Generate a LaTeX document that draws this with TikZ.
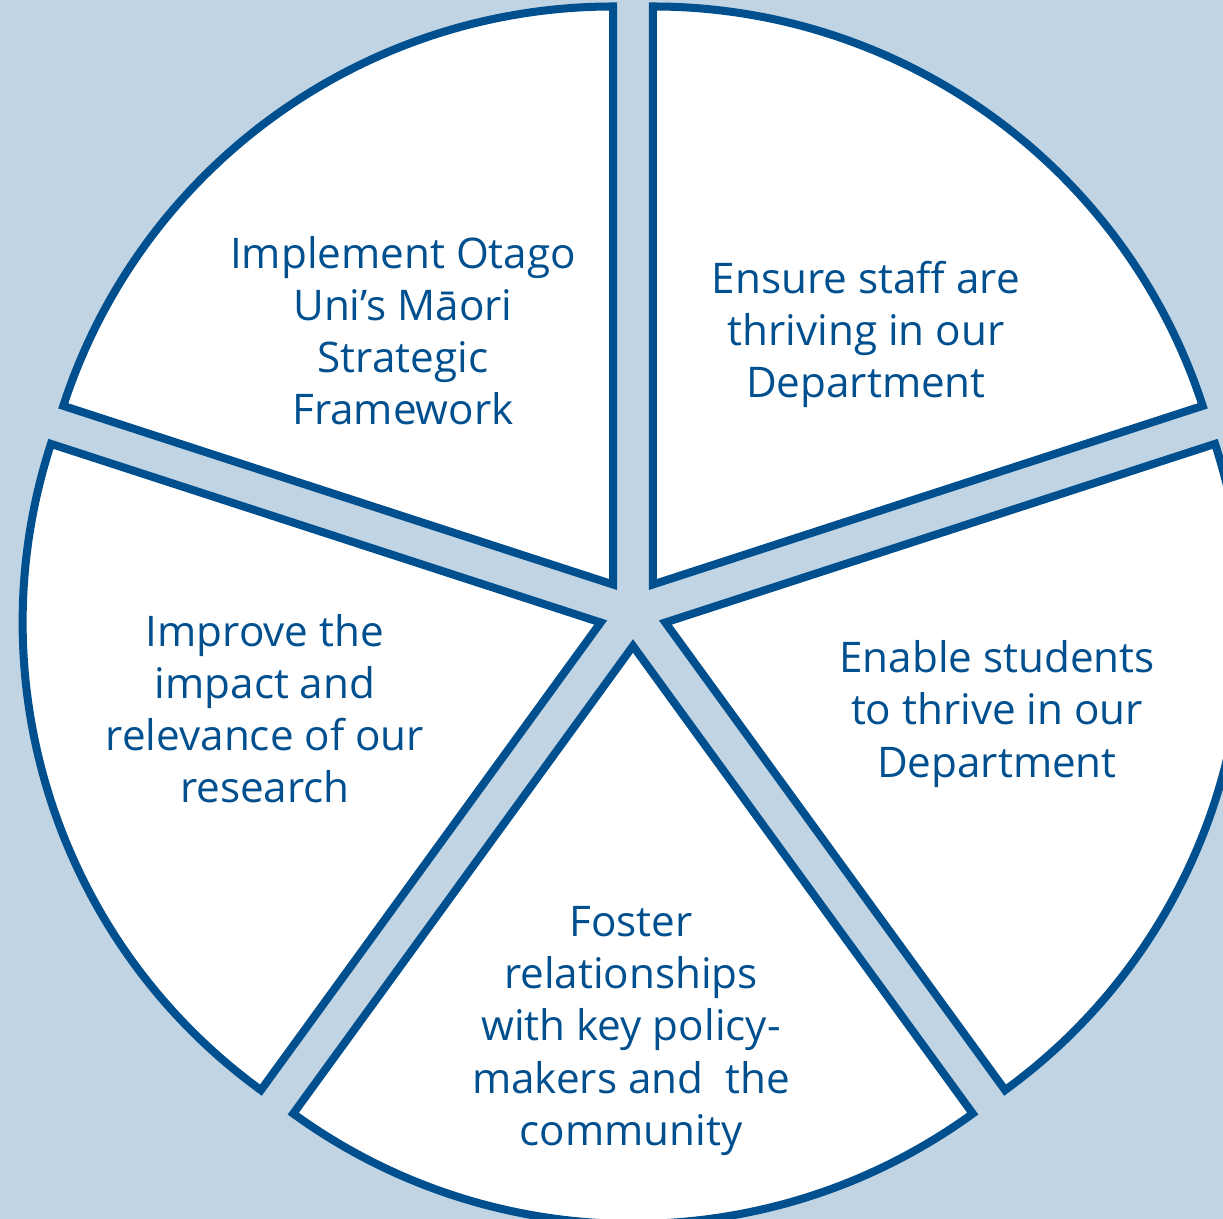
\documentclass[tikz,border=0pt]{standalone}
\usepackage{fontspec}
\setmainfont{Open Sans}
\usetikzlibrary{calc}
\definecolor{piblue}{HTML}{004F8E}
\definecolor{pibg}{HTML}{C0D4E4}
\tikzset{slice/.style={draw=piblue,fill=white,line width=.08cm,line join=miter},
	goal/.style={text=piblue,align=center,font=\fontsize{12}{14.8}\selectfont}}
\begin{document}
\begin{tikzpicture}[x=.01cm,y=.01cm]
	\fill[pibg] (0,0) rectangle (1223,-1219);
	\path[use as bounding box] (0,0) rectangle (1223,-1219);
	\clip (0,0) rectangle (1223,-1219);
	\path (633,-612)coordinate(O);
	\foreach \n/\s/\e in {tl/90/162,tr/18/90,r/-54/18,b/-126/-54,l/162/234}
	\draw[slice] ($(O)+({(\s+\e)/2}:34)$)coordinate(\n) -- ++(\s:578) arc[start angle=\s,end angle=\e,radius=578] -- cycle;
	\node[goal] (tlt) at (403,-331) {Implement Otago\\Uni’s Māori\\Strategic\\Framework};
	\node[goal] (trt) at (866,-334) {Ensure staff are\\thriving in our\\Department};
	\node[goal] (rt) at (997,-714) {Enable students\\to thrive in our\\Department};
	\node[goal] (bt) at (631,-1031) {Foster\\relationships\\with key policy-\\makers and~ the\\community};
	\node[goal] (lt) at (265,-709) {Improve the\\impact and\\relevance of our\\research};
\end{tikzpicture}
\end{document}
